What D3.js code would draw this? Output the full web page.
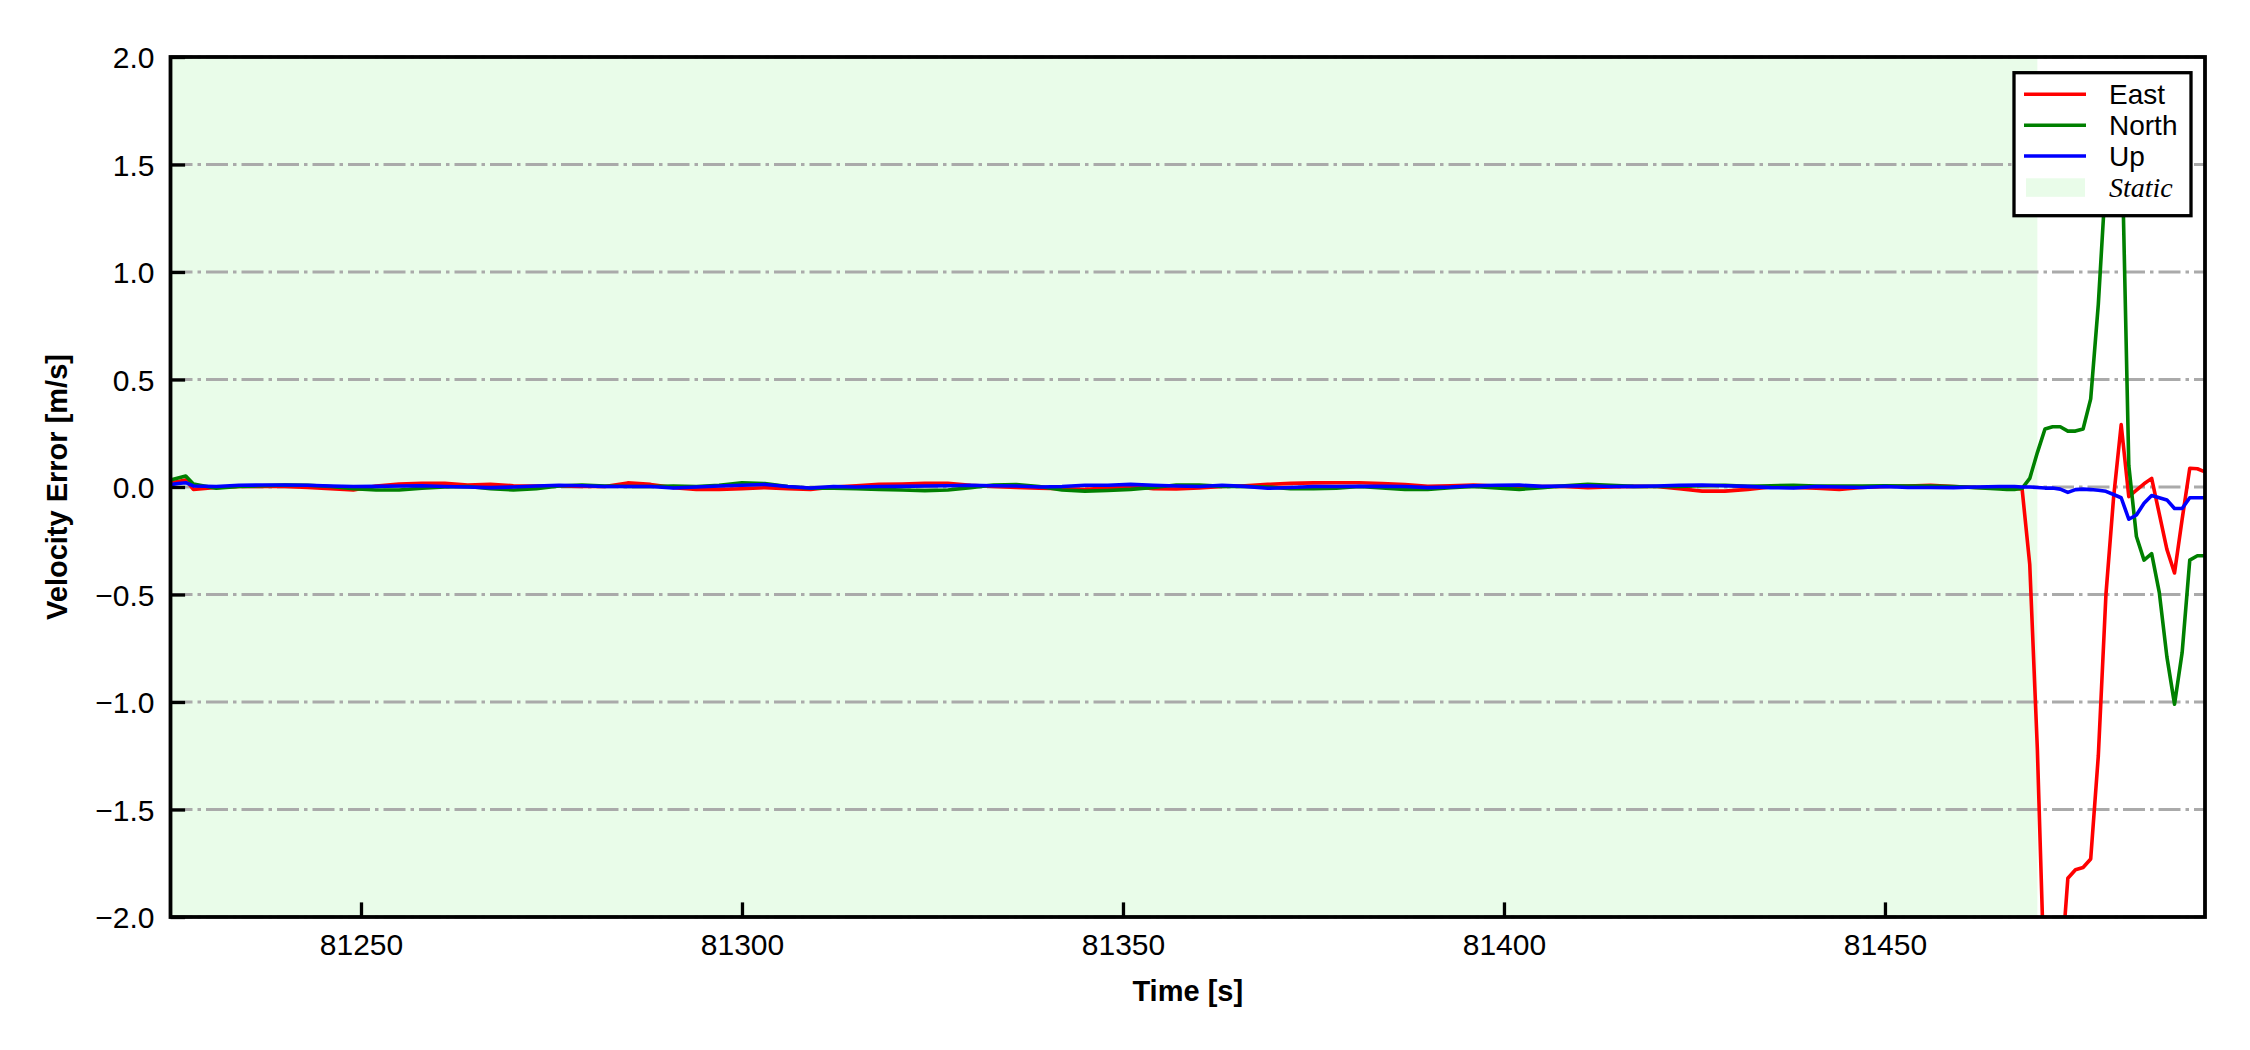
<!DOCTYPE html>
<html><head><meta charset="utf-8">
<script src="https://cdn.jsdelivr.net/npm/d3@7"></script>
<style>html,body{margin:0;padding:0;background:#fff;}</style>
</head><body>
<svg id="chart" width="2250" height="1050"></svg>
<script>
const times = [
  81225, 81226, 81227, 81228,
  81231, 81234, 81237, 81240, 81243, 81246, 81249, 81252, 81255, 81258, 81261, 81264, 81267, 81270, 81273, 81276, 81279, 81282, 81285, 81288,
  81291, 81294, 81297, 81300, 81303, 81306, 81309, 81312, 81315, 81318, 81321, 81324, 81327, 81330, 81333, 81336, 81339, 81342, 81345,
  81348, 81351, 81354, 81357, 81360, 81363, 81366, 81369, 81372, 81375, 81378, 81381, 81384, 81387, 81390, 81393, 81396, 81399, 81402, 81405, 81408, 81411,
  81414, 81417, 81420, 81423, 81426, 81429, 81432, 81435, 81438, 81441, 81444, 81447, 81450, 81453, 81456, 81459, 81462, 81465,
  81466, 81467, 81468, 81469, 81470, 81471, 81472, 81473, 81474, 81475, 81476, 81477, 81478, 81479, 81480, 81481, 81482, 81483, 81484, 81485, 81486, 81487, 81488, 81489, 81490, 81491, 81492
];
const east = [
  0.020, 0.026, 0.033, -0.011,
  -0.002, 0.003, 0.003, 0.002, -0.002, -0.008, -0.014, 0.005, 0.014, 0.017, 0.017, 0.009, 0.012, 0.006, 0.005, 0.005, 0.002, 0.002, 0.019, 0.012,
  -0.003, -0.011, -0.011, -0.008, -0.003, -0.008, -0.011, 0.000, 0.006, 0.012, 0.014, 0.017, 0.017, 0.008, 0.002, -0.002, -0.006, -0.008, -0.011,
  -0.005, 0.002, -0.008, -0.009, -0.005, 0.002, 0.006, 0.012, 0.017, 0.019, 0.020, 0.020, 0.016, 0.011, 0.003, 0.006, 0.009, 0.005, 0.003, 0.002, 0.002, -0.003,
  0.000, 0.003, 0.002, -0.008, -0.019, -0.019, -0.011, 0.000, -0.002, -0.006, -0.011, -0.002, 0.002, 0.005, 0.008, 0.002, -0.002, -0.003,
  -0.005, -0.006, -0.010, -0.36, -1.22, -2.40, -2.60, -2.30, -1.82, -1.78, -1.77, -1.73, -1.25, -0.50, -0.05, 0.29, -0.045, -0.015, 0.015, 0.04, -0.125, -0.29, -0.40, -0.15, 0.087, 0.085, 0.07
];
const north = [
  0.033, 0.042, 0.051, 0.014,
  -0.006, 0.002, 0.006, 0.009, 0.008, 0.002, -0.008, -0.014, -0.014, -0.006, 0.000, 0.002, -0.008, -0.014, -0.008, 0.005, 0.009, 0.005, 0.002, 0.002,
  0.005, 0.002, 0.008, 0.019, 0.016, 0.002, -0.006, -0.006, -0.008, -0.011, -0.014, -0.017, -0.014, -0.003, 0.009, 0.011, 0.002, -0.014, -0.019,
  -0.016, -0.011, -0.002, 0.009, 0.009, 0.003, 0.002, 0.000, -0.008, -0.008, -0.006, 0.002, -0.005, -0.011, -0.011, -0.003, 0.002, -0.005, -0.011, -0.003, 0.006, 0.012,
  0.008, 0.003, 0.002, 0.003, 0.006, 0.008, 0.003, 0.006, 0.008, 0.005, 0.005, 0.005, 0.006, 0.005, 0.005, 0.002, -0.003, -0.009,
  -0.011, -0.011, -0.006, 0.04, 0.16, 0.27, 0.28, 0.28, 0.26, 0.26, 0.27, 0.41, 0.85, 1.45, 1.80, 1.75, 0.10, -0.23, -0.34, -0.31, -0.49, -0.79, -1.01, -0.77, -0.34, -0.32, -0.32
];
const up = [
  0.011, 0.016, 0.020, 0.005,
  0.002, 0.008, 0.009, 0.009, 0.008, 0.005, 0.002, 0.003, 0.005, 0.006, 0.002, 0.000, -0.003, 0.000, 0.005, 0.008, 0.006, 0.002, 0.002, 0.002,
  -0.005, 0.000, 0.005, 0.008, 0.012, 0.002, -0.005, 0.002, 0.000, 0.002, 0.003, 0.005, 0.006, 0.008, 0.006, 0.005, 0.000, 0.002, 0.008,
  0.008, 0.012, 0.008, 0.005, 0.002, 0.008, 0.003, -0.006, -0.002, 0.002, 0.002, 0.003, 0.003, 0.002, -0.003, 0.000, 0.006, 0.008, 0.009, 0.003, 0.005, 0.006,
  0.002, 0.003, 0.005, 0.008, 0.009, 0.006, 0.003, -0.003, -0.005, 0.002, 0.000, -0.002, 0.002, -0.002, -0.002, -0.003, 0.000, 0.002,
  0.002, 0.002, 0.000, 0.000, -0.002, -0.005, -0.005, -0.010, -0.025, -0.012, -0.010, -0.012, -0.015, -0.020, -0.035, -0.050, -0.150, -0.130, -0.076, -0.040, -0.050, -0.060, -0.100, -0.100, -0.050, -0.050, -0.050
];
const seriesNames = ["East", "North", "Up"];
const seriesColors = ["#ff0000", "#008000", "#0000ff"];
const staticSpan = [81225, 81470];
const staticLabel = "Static";
const xTicks = [81250, 81300, 81350, 81400, 81450];
const yTicks = [-2.0, -1.5, -1.0, -0.5, 0.0, 0.5, 1.0, 1.5, 2.0];
const xDomain = [81225, 81492];
const yDomain = [-2, 2];
const xLabel = "Time [s]";
const yLabel = "Velocity Error [m/s]";

const svg = d3.select("#chart");
const L = 170.5, R = 2205, T = 57, B = 917;
const x = d3.scaleLinear().domain(xDomain).range([L, R]);
const y = d3.scaleLinear().domain(yDomain).range([B, T]);
const sans = "'Liberation Sans', Arial, Helvetica, sans-serif";

svg.append("rect").attr("width", 2250).attr("height", 1050).attr("fill", "#fff");
svg.append("defs").append("clipPath").attr("id", "clip")
  .append("rect").attr("x", L).attr("y", T).attr("width", R - L).attr("height", B - T);

// static span
svg.append("rect")
  .attr("x", x(staticSpan[0])).attr("y", T)
  .attr("width", x(staticSpan[1]) - x(staticSpan[0])).attr("height", B - T)
  .attr("fill", "#e9fce9");

// grid
svg.append("g").selectAll("line").data(yTicks).join("line")
  .attr("x1", L).attr("x2", R)
  .attr("y1", d => y(d)).attr("y2", d => y(d))
  .attr("stroke", "#aaaaaa").attr("stroke-width", 3.2)
  .attr("stroke-dasharray", "22,5,3.5,5");

// lines
const seriesData = [east, north, up];
const lineGen = d3.line().x((d, i) => x(times[i])).y(d => y(d));
const gLines = svg.append("g").attr("clip-path", "url(#clip)");
seriesData.forEach((vals, k) => {
  gLines.append("path").datum(vals)
    .attr("d", lineGen)
    .attr("fill", "none")
    .attr("stroke", seriesColors[k])
    .attr("stroke-width", 3.6)
    .attr("stroke-linejoin", "round");
});

// axes
const xAxis = d3.axisBottom(x).tickValues(xTicks).tickFormat(d3.format("d"))
  .tickSizeInner(-14.6).tickSizeOuter(0).tickPadding(16);
const yAxis = d3.axisLeft(y).tickValues(yTicks).tickFormat(d3.format(".1f"))
  .tickSizeInner(-14.6).tickSizeOuter(0).tickPadding(16);

const gx = svg.append("g").attr("transform", `translate(0,${B})`).call(xAxis);
const gy = svg.append("g").attr("transform", `translate(${L},0)`).call(yAxis);
[gx, gy].forEach(g => {
  g.select(".domain").remove();
  g.selectAll(".tick line").attr("stroke", "#000").attr("stroke-width", 3.3);
  g.selectAll(".tick text").attr("fill", "#000").attr("font-family", sans).attr("font-size", 30);
});
gx.selectAll(".tick text").attr("dy", null).attr("y", 38);
gy.selectAll(".tick text").attr("dy", "0.35em").attr("x", -16);

// frame
svg.append("rect").attr("x", L).attr("y", T).attr("width", R - L).attr("height", B - T)
  .attr("fill", "none").attr("stroke", "#000").attr("stroke-width", 3.8);

// axis labels
svg.append("text").attr("x", (L + R) / 2).attr("y", 1001)
  .attr("text-anchor", "middle").attr("font-family", sans).attr("font-weight", "bold")
  .attr("font-size", 29).text(xLabel);
svg.append("text").attr("transform", `translate(67,${(T + B) / 2}) rotate(-90)`)
  .attr("text-anchor", "middle").attr("font-family", sans).attr("font-weight", "bold")
  .attr("font-size", 29).text(yLabel);

// legend
const lg = svg.append("g");
lg.append("rect").attr("x", 2014).attr("y", 72.7).attr("width", 177).attr("height", 143)
  .attr("fill", "#fff").attr("stroke", "#000").attr("stroke-width", 3.3);
const rowY = [104.3, 135.2, 166, 196.7];
seriesNames.forEach((n, k) => {
  lg.append("line").attr("x1", 2024).attr("x2", 2086)
    .attr("y1", rowY[k] - 10).attr("y2", rowY[k] - 10)
    .attr("stroke", seriesColors[k]).attr("stroke-width", 3.6);
  lg.append("text").attr("x", 2109).attr("y", rowY[k])
    .attr("font-family", sans).attr("font-size", 28).attr("fill", "#000").text(n);
});
lg.append("rect").attr("x", 2026).attr("y", 178.3).attr("width", 59).attr("height", 18.5)
  .attr("fill", "#e9fce9");
lg.append("text").attr("x", 2109).attr("y", rowY[3])
  .attr("font-family", "'Liberation Serif', 'Times New Roman', serif").attr("font-style", "italic")
  .attr("font-size", 28).attr("fill", "#000").text(staticLabel);
</script>
</body></html>
